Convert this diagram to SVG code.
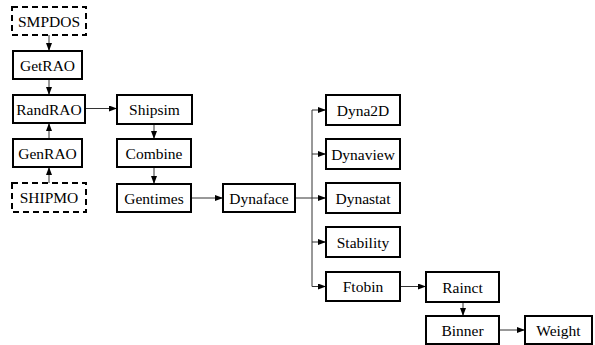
<svg xmlns="http://www.w3.org/2000/svg" width="595" height="345" viewBox="0 0 595 345">
<style>
.box{fill:#fff;stroke:#000;stroke-width:2}
.dash{fill:#fff;stroke:#000;stroke-width:2;stroke-dasharray:6 4}
text{font-size:15.5px;fill:#000;text-anchor:middle}
.ln{fill:none;stroke:#333;stroke-width:1}
</style>
<defs>
<marker id="ah" viewBox="0 0 8 6" refX="8" refY="3" markerWidth="8" markerHeight="6" markerUnits="userSpaceOnUse" orient="auto">
<path d="M0,0 L8,3 L0,6 Z" fill="#000"/>
</marker>
</defs>
<rect width="595" height="345" fill="#fff"/>
<g id="connectors">
<path class="ln" d="M49,35 V51" marker-end="url(#ah)"/>
<path class="ln" d="M49,79 V95" marker-end="url(#ah)"/>
<path class="ln" d="M49,139 V123" marker-end="url(#ah)"/>
<path class="ln" d="M49,183 V167" marker-end="url(#ah)"/>
<path class="ln" d="M85,108.5 H117" marker-end="url(#ah)"/>
<path class="ln" d="M154,124 V139" marker-end="url(#ah)"/>
<path class="ln" d="M154,167 V184" marker-end="url(#ah)"/>
<path class="ln" d="M191,198 H223" marker-end="url(#ah)"/>
<path class="ln" d="M295,198 H312"/>
<path class="ln" d="M312,110 V286.5"/>
<path class="ln" d="M312,110 H326" marker-end="url(#ah)"/>
<path class="ln" d="M312,154 H326" marker-end="url(#ah)"/>
<path class="ln" d="M312,198 H326" marker-end="url(#ah)"/>
<path class="ln" d="M312,242 H326" marker-end="url(#ah)"/>
<path class="ln" d="M312,286.5 H326" marker-end="url(#ah)"/>
<path class="ln" d="M400,286.5 H426" marker-end="url(#ah)"/>
<path class="ln" d="M463,302 V316" marker-end="url(#ah)"/>
<path class="ln" d="M499,330 H525" marker-end="url(#ah)"/>
</g>
<g font-family="Liberation Serif, Times New Roman, serif">
<g id="SMPDOS"><rect class="dash" x="12" y="7" width="74" height="28"/><text x="49" y="26.5">SMPDOS</text></g>
<g id="GetRAO"><rect class="box" x="13" y="51" width="69" height="28"/><text x="47.5" y="70.5">GetRAO</text></g>
<g id="RandRAO"><rect class="box" x="13" y="95" width="72" height="28"/><text x="49" y="114.5">RandRAO</text></g>
<g id="GenRAO"><rect class="box" x="13" y="139" width="69" height="28"/><text x="47.5" y="158.5">GenRAO</text></g>
<g id="SHIPMO"><rect class="dash" x="12" y="183" width="74" height="29"/><text x="49" y="203">SHIPMO</text></g>
<g id="Shipsim"><rect class="box" x="117" y="95" width="75" height="29"/><text x="154.5" y="115">Shipsim</text></g>
<g id="Combine"><rect class="box" x="117" y="139" width="74" height="28"/><text x="154" y="158.5">Combine</text></g>
<g id="Gentimes"><rect class="box" x="117" y="184" width="74" height="28"/><text x="154" y="203.5">Gentimes</text></g>
<g id="Dynaface"><rect class="box" x="223" y="184" width="72" height="28"/><text x="259" y="203.5">Dynaface</text></g>
<g id="Dyna2D"><rect class="box" x="326" y="95" width="74" height="30"/><text x="363" y="115.5">Dyna2D</text></g>
<g id="Dynaview"><rect class="box" x="326" y="139" width="74" height="30"/><text x="363" y="159.5">Dynaview</text></g>
<g id="Dynastat"><rect class="box" x="326" y="183" width="74" height="30"/><text x="363" y="203.5">Dynastat</text></g>
<g id="Stability"><rect class="box" x="326" y="227" width="74" height="30"/><text x="363" y="247.5">Stability</text></g>
<g id="Ftobin"><rect class="box" x="326" y="272" width="74" height="29"/><text x="363" y="292">Ftobin</text></g>
<g id="Raict"><rect class="box" x="426" y="272" width="73" height="30"/><text x="462.5" y="292.5">Rainct</text></g>
<g id="Binner"><rect class="box" x="426" y="316" width="73" height="28"/><text x="462.5" y="335.5">Binner</text></g>
<g id="Weight"><rect class="box" x="525" y="316" width="67" height="28"/><text x="558.5" y="335.5">Weight</text></g>
</g>
</svg>
